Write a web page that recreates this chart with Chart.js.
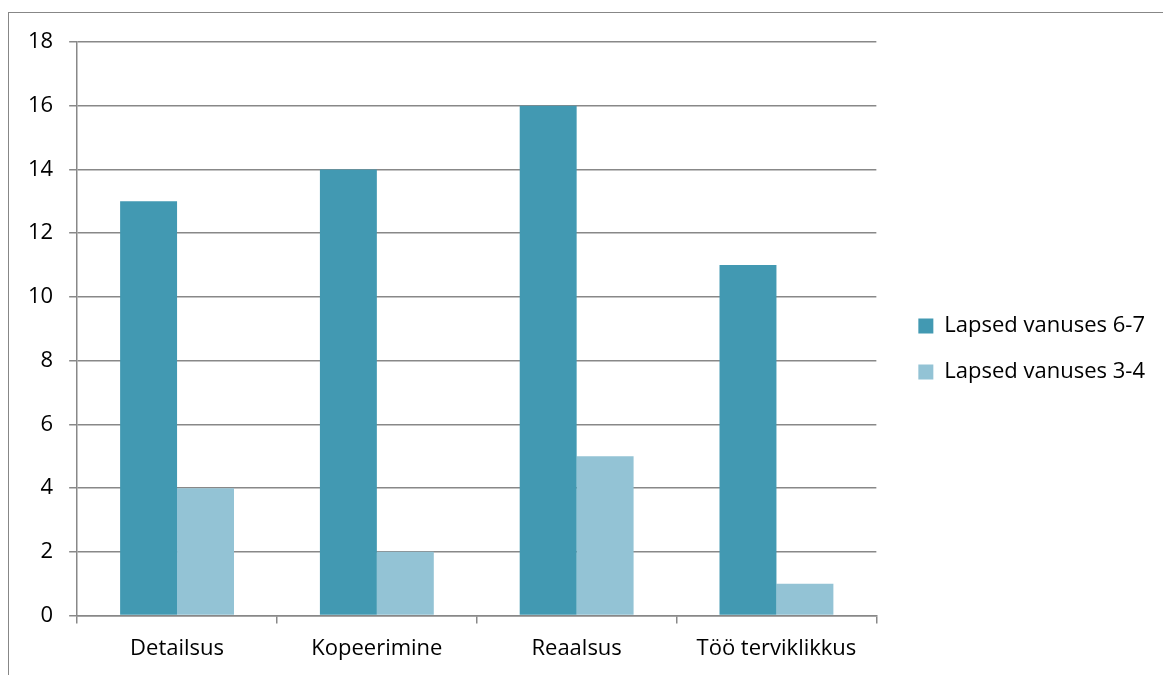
<!DOCTYPE html>
<html>
<head>
<meta charset="utf-8">
<script src="https://cdn.jsdelivr.net/npm/chart.js@4"></script>
<style>
  html, body { margin: 0; padding: 0; background: #fff; }
  #wrap { position: relative; width: 1163px; height: 675px; overflow: hidden; }
  #frame { position: absolute; left: 8px; top: 12px; width: 2000px; height: 2000px;
           border-left: 1px solid #878787; border-top: 1px solid #878787; }
  canvas { position: absolute; left: 0; top: 0; }
</style>
</head>
<body>
<div id="wrap">
  <div id="frame"></div>
  <canvas id="graph" width="1163" height="675"></canvas>
</div>
<script>
var categories = ['Detailsus', 'Kopeerimine', 'Reaalsus', 'Töö terviklikkus'];
var older = [13, 14, 16, 11];   // Lapsed vanuses 6-7
var younger = [4, 2, 5, 1];     // Lapsed vanuses 3-4
var yTicks = [0, 2, 4, 6, 8, 10, 12, 14, 16, 18];

document.addEventListener("DOMContentLoaded", function() {
  var ctx = document.getElementById('graph').getContext('2d');
  var font = { family: '"Open Sans", Lato, sans-serif', size: 22 };
  var grey = '#888888';

  // push the legend a bit further away from the plot (and a bit up)
  var legendShift = {
    id: 'legendShift',
    afterLayout: function(chart) {
      if (chart.legend) {
        chart.legend.left += 18;
        chart.legend.right += 18;
        chart.legend.top -= 9;
        chart.legend.bottom -= 9;
      }
    }
  };

  new Chart(ctx, {
    type: 'bar',
    data: {
      labels: categories,
      datasets: [{
        label: 'Lapsed vanuses 6-7',
        data: older,
        backgroundColor: '#4299B2'
      }, {
        label: 'Lapsed vanuses 3-4',
        data: younger,
        backgroundColor: '#93C3D5'
      }]
    },
    plugins: [legendShift],
    options: {
      responsive: false,
      animation: false,
      datasets: {
        bar: { categoryPercentage: 0.57, barPercentage: 1.0 }
      },
      layout: { padding: { left: 12, top: 42, right: 26, bottom: 1 } },
      plugins: {
        legend: {
          position: 'right',
          labels: {
            color: '#000',
            font: font,
            boxWidth: 15,
            boxHeight: 15,
            padding: 24
          }
        },
        tooltip: { enabled: false }
      },
      scales: {
        x: {
          offset: true,
          grid: {
            offset: true,
            drawOnChartArea: false,
            color: grey,
            lineWidth: 1.5,
            tickLength: 8
          },
          border: { color: grey, width: 1.5 },
          ticks: { color: '#000', font: font, padding: 12 }
        },
        y: {
          min: 0,
          max: 18,
          afterBuildTicks: function(axis) {
            axis.ticks = yTicks.map(function(v) { return { value: v }; });
          },
          grid: { color: grey, lineWidth: 1.5, tickLength: 8 },
          border: { color: grey, width: 1.5 },
          ticks: { color: '#000', font: font, padding: 16 }
        }
      }
    }
  });
});
</script>
</body>
</html>
